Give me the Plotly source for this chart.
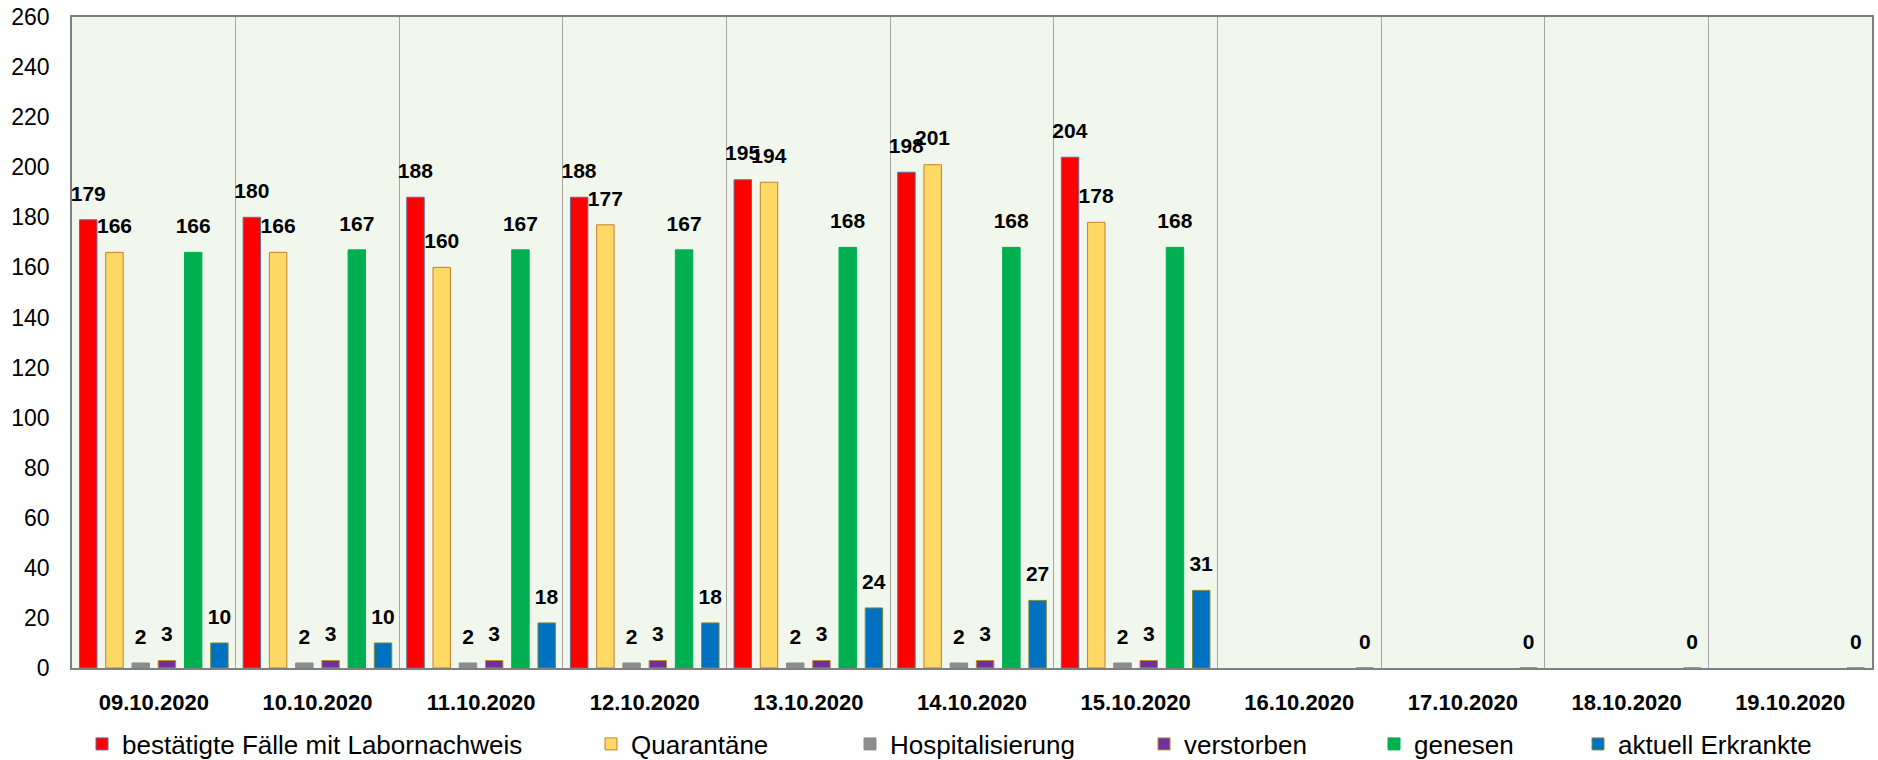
import plotly.graph_objects as go

dates = ["09.10.2020", "10.10.2020", "11.10.2020", "12.10.2020", "13.10.2020",
         "14.10.2020", "15.10.2020", "16.10.2020", "17.10.2020", "18.10.2020", "19.10.2020"]

bestaetigt = [179, 180, 188, 188, 195, 198, 204, None, None, None, None]
quarantaene = [166, 166, 160, 177, 194, 201, 178, None, None, None, None]
hospital = [2, 2, 2, 2, 2, 2, 2, None, None, None, None]
verstorben = [3, 3, 3, 3, 3, 3, 3, None, None, None, None]
genesen = [166, 167, 167, 167, 168, 168, 168, None, None, None, None]
aktuell = [10, 10, 18, 18, 24, 27, 31, 0, 0, 0, 0]

y_ticks = list(range(0, 261, 20))

series = [
    ("bestätigte Fälle mit Labornachweis", bestaetigt, "#FF0000", "#5B6E96", "legend", 82),
    ("Quarantäne", quarantaene, "#FFD966", "#C47F2E", "legend2", 591),
    ("Hospitalisierung", hospital, "#8C8C8C", "#8C8C8C", "legend3", 850),
    ("verstorben", verstorben, "#7030A0", "#B8902A", "legend4", 1144),
    ("genesen", genesen, "#00B050", "#00B050", "legend5", 1374),
    ("aktuell Erkrankte", aktuell, "#0070C0", "#7E8C3C", "legend6", 1578),
]

FONT = "Liberation Sans, Arial, sans-serif"


def label(v):
    if v is None:
        return ""
    return "<span style='font-size:21px'>%d</span><br> " % v


fig = go.Figure()
legends = {}
for name, vals, col, edge, lg, lx in series:
    fig.add_trace(go.Bar(
        name=name, x=dates, y=vals,
        marker=dict(color=col, line=dict(color=edge, width=1)),
        text=[label(v) for v in vals],
        textposition="outside",
        textfont=dict(family=FONT, size=11, color="black", weight="bold"),
        constraintext="none",
        cliponaxis=False,
        legend=lg,
        hoverinfo="x+y+name",
    ))
    legends[lg] = dict(
        x=lx / 1878, xref="container", xanchor="left",
        y=1 - 744 / 760, yref="container", yanchor="middle",
        orientation="h", bgcolor="rgba(0,0,0,0)",
        font=dict(family=FONT, size=26, color="black"),
        itemwidth=30,
    )

fig.update_layout(
    width=1878, height=760,
    margin=dict(l=72, r=4, t=16, b=92),
    paper_bgcolor="white",
    plot_bgcolor="#F2F7EE",
    barmode="group",
    bargap=0.038,
    bargroupgap=0.335,
    font=dict(family=FONT, color="black"),
    showlegend=True,
    **legends,
)

fig.update_xaxes(
    type="category",
    tickson="boundaries",
    showgrid=True, gridcolor="#A6A6A6", gridwidth=1,
    showline=True, linecolor="#7F7F7F", linewidth=1.5, mirror=True,
    ticks="",
    tickfont=dict(family=FONT, size=22, color="black", weight="bold"),
    ticklabelstandoff=14,
)
fig.update_yaxes(
    range=[0, 260],
    tickvals=y_ticks,
    showgrid=False,
    zeroline=False,
    showline=True, linecolor="#7F7F7F", linewidth=1.5, mirror=True,
    ticks="",
    tickfont=dict(family=FONT, size=23, color="black"),
    ticklabelstandoff=16,
)

fig.write_html(
    "out.html",
    config={"displayModeBar": False},
    post_script="document.body.style.margin='0';document.body.style.overflow='hidden';",
)
